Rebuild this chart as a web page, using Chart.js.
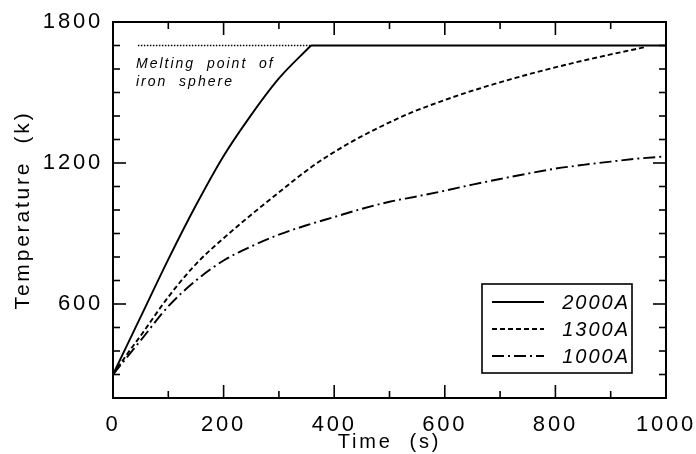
<!DOCTYPE html>
<html><head><meta charset="utf-8">
<script src="https://cdn.jsdelivr.net/npm/chart.js@4/dist/chart.umd.min.js"></script>
<style>html,body{margin:0;padding:0;background:#fff}#wrap{width:696px;height:454px}</style>
</head><body><div id="wrap"><canvas id="c" width="696" height="454"></canvas></div>
<script>
const seriesNames = ['2000A', '1300A', '1000A'];
const time2000 = [0, 50, 100, 150, 200, 250, 300, 358];
const temp2000 = [300, 545, 790, 1020, 1230, 1405, 1560, 1700];
const time2000Melted = [358, 1000];
const temp2000Melted = [1700, 1700];
const time1300 = [0, 25, 50, 100, 150, 200, 250, 300, 360, 420, 480, 540, 600, 660, 720, 780, 840, 900, 960];
const temp1300 = [300, 385, 465, 630, 770, 880, 980, 1075, 1185, 1275, 1350, 1415, 1468, 1515, 1557, 1595, 1630, 1662, 1692];
const time1000 = [0, 50, 100, 150, 200, 250, 300, 350, 400, 450, 500, 550, 600, 650, 700, 750, 800, 850, 900, 950, 1000];
const temp1000 = [300, 445, 590, 700, 785, 845, 895, 935, 970, 1005, 1035, 1058, 1082, 1108, 1132, 1155, 1176, 1192, 1206, 1219, 1228];
const meltTime = [45, 358];
const meltTemp = [1700, 1700];
const xMajorTicks = [0, 200, 400, 600, 800, 1000];
const xMinorTicks = [100, 300, 500, 700, 900];
const yMajorTicks = [600, 1200, 1800];
const yMinorTicks = [300, 400, 500, 700, 800, 900, 1000, 1100, 1300, 1400, 1500, 1600, 1700];
const annotationLines = ['Melting  point  of', 'iron  sphere'];
const xTitle = 'Time  (s)';
const yTitle = 'Temperature  (k)';

const pts = (xs, ys) => xs.map((v, i) => ({x: v, y: ys[i]}));
const FONT = 'Liberation Sans, Arial, Helvetica, sans-serif';
const dashes = [[], [5, 3], [12, 4, 2, 4]];

function setSpacing(chart, s) { try { chart.ctx.letterSpacing = s; } catch (e) {} }

const spacingPlugin = {
  id: 'spacing',
  beforeUpdate(chart) { setSpacing(chart, '2.8px'); },
  beforeLayout(chart) { setSpacing(chart, '2.8px'); },
  beforeDraw(chart) { setSpacing(chart, '2.8px'); }
};

const frameTicks = {
  id: 'frameTicks',
  afterDatasetsDraw(chart) {
    const {ctx, chartArea: a, scales: {x, y}} = chart;
    ctx.save();
    ctx.strokeStyle = '#000';
    const line = (x1, y1, x2, y2) => { ctx.beginPath(); ctx.moveTo(x1, y1); ctx.lineTo(x2, y2); ctx.stroke(); };
    ctx.lineWidth = 1.6;
    xMajorTicks.forEach(v => { const p = x.getPixelForValue(v); line(p, a.bottom, p, a.bottom - 13); line(p, a.top, p, a.top + 13); });
    xMinorTicks.forEach(v => { const p = x.getPixelForValue(v); line(p, a.bottom, p, a.bottom - 7); line(p, a.top, p, a.top + 7); });
    yMajorTicks.forEach(v => { const p = y.getPixelForValue(v); line(a.left, p, a.left + 13, p); line(a.right, p, a.right - 13, p); });
    yMinorTicks.forEach(v => { const p = y.getPixelForValue(v); line(a.left, p, a.left + 7, p); line(a.right, p, a.right - 7, p); });
    ctx.lineWidth = 2;
    ctx.strokeRect(a.left, a.top, a.right - a.left, a.bottom - a.top);
    // annotation
    ctx.fillStyle = '#000';
    ctx.letterSpacing = '2px';
    ctx.font = 'italic 14px ' + FONT;
    ctx.textAlign = 'left';
    ctx.textBaseline = 'alphabetic';
    const ax = a.left + 23, ay = y.getPixelForValue(1700);
    ctx.fillText(annotationLines[0], ax, ay + 22);
    ctx.fillText(annotationLines[1], ax, ay + 40);
    // legend box
    const bw = 150, bh = 89;
    const bx = a.right - 34 - bw, by = a.bottom - 25 - bh;
    ctx.fillStyle = '#fff';
    ctx.fillRect(bx, by, bw, bh);
    ctx.lineWidth = 1.6;
    ctx.strokeRect(bx, by, bw, bh);
    ctx.font = 'italic 20px ' + FONT;
    ctx.letterSpacing = '2px';
    ctx.textAlign = 'right';
    ctx.textBaseline = 'middle';
    chart.data.datasets.forEach((ds, i) => {
      if (i > 2) return;
      const ly = by + 18 + i * 27;
      ctx.save();
      ctx.lineWidth = ds.borderWidth;
      ctx.setLineDash(ds.borderDash || []);
      line(bx + 10, ly, bx + 62, ly);
      ctx.restore();
      ctx.fillStyle = '#000';
      ctx.fillText(ds.label, bx + bw - 2, ly + 1);
    });
    ctx.restore();
  }
};

const mk = (label, xs, ys, i) => ({
  label, data: pts(xs, ys), borderColor: '#000', borderWidth: 1.9,
  borderDash: dashes[i], pointRadius: 0, fill: false,
  cubicInterpolationMode: 'monotone'
});

new Chart(document.getElementById('c'), {
  type: 'line',
  data: {
    datasets: [
      mk(seriesNames[0], time2000, temp2000, 0),
      mk(seriesNames[1], time1300, temp1300, 1),
      mk(seriesNames[2], time1000, temp1000, 2),
      {label: 'melted', data: pts(time2000Melted, temp2000Melted), borderColor: '#000', borderWidth: 1.9,
       pointRadius: 0, fill: false},
      {label: 'melting', data: pts(meltTime, meltTemp), borderColor: '#000', borderWidth: 1.3,
       borderDash: [1.5, 1.5], pointRadius: 0, fill: false}
    ]
  },
  options: {
    responsive: false, animation: false, devicePixelRatio: 1,
    layout: {padding: {left: 0, right: 30, top: 22, bottom: 0}},
    plugins: {legend: {display: false}, tooltip: {enabled: false}},
    scales: {
      x: {
        type: 'linear', min: 0, max: 1000, position: 'bottom',
        afterBuildTicks: s => { s.ticks = xMajorTicks.map(v => ({value: v})); },
        afterFit: s => { s.height = 56; s.paddingLeft = 0; s.paddingRight = 0; },
        grid: {display: false, drawTicks: false},
        border: {display: false},
        ticks: {color: '#000', font: {family: FONT, size: 22}, padding: 14, maxRotation: 0, autoSkip: false,
                callback: v => String(v)},
        title: {display: true, text: xTitle, color: '#000', font: {family: FONT, size: 20}, padding: {top: 0, bottom: 0}}
      },
      y: {
        type: 'linear', min: 200, max: 1800,
        afterBuildTicks: s => { s.ticks = yMajorTicks.map(v => ({value: v})); },
        afterFit: s => { s.width = 113; s.paddingTop = 0; s.paddingBottom = 0; },
        grid: {display: false, drawTicks: false},
        border: {display: false},
        ticks: {color: '#000', font: {family: FONT, size: 22}, padding: 10, autoSkip: false,
                callback: v => String(v)},
        title: {display: true, text: yTitle, color: '#000', font: {family: FONT, size: 21}, padding: {top: 11, bottom: 0}}
      }
    }
  },
  plugins: [spacingPlugin, frameTicks]
});
</script>
</body></html>
